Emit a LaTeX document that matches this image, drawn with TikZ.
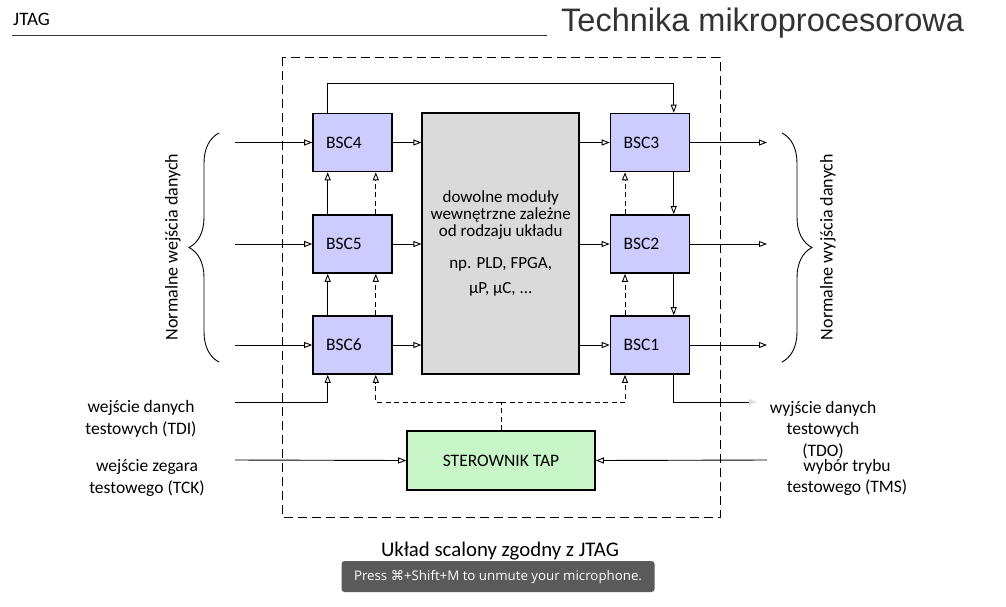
\documentclass[tikz,border=0pt]{standalone}
\usepackage{fontspec}
\setmainfont{Carlito}
\newfontfamily\titlefont{Liberation Sans}
\newfontfamily\toastfont{Open Sans}
\newfontfamily\symfont{DejaVu Sans}
\usetikzlibrary{arrows.meta,decorations.pathreplacing}
\definecolor{bscblue}{RGB}{204,204,255}
\definecolor{coregray}{RGB}{218,218,218}
\definecolor{tapgreen}{RGB}{200,246,200}
\definecolor{toastgray}{RGB}{90,90,90}

\begin{document}
\begin{tikzpicture}
[
    x=1pt, y=-1pt,
    font=\fontsize{17.5}{20}\selectfont,
    bsc/.style={draw, line width=1.6pt, fill=bscblue, minimum width=79pt, minimum height=58pt,
                inner xsep=13pt, text width=53pt, align=left},
    core/.style={draw, line width=1.6pt, fill=coregray, minimum width=157pt, minimum height=261pt},
    tap/.style={draw, line width=1.6pt, fill=tapgreen, minimum width=188pt, minimum height=59pt},
    conn/.style={line width=0.9pt, -{Triangle[open, length=8pt, width=6pt]}},
    ctl/.style={line width=0.9pt, dash pattern=on 5pt off 3.5pt},
    chip/.style={line width=1pt, dash pattern=on 9pt off 5pt},
    brace/.style={line width=0.9pt, decorate, decoration={brace, amplitude=30pt}},
    lbl/.style={align=center, font=\fontsize{17.5}{22}\selectfont},
]
\useasboundingbox (0,0) rectangle (1006,606);

% header
\node [anchor=west, inner sep=0pt] (jtag) at (13,19) {\fontsize{19}{20}\selectfont JTAG};
\draw [black!80, line width=0.8pt] (12,35) -- (547,35);
\node [anchor=west, inner sep=0pt, text=black!80] (title) at (561,23)
{\titlefont\fontsize{32.5}{34}\selectfont Technika mikroprocesorowa};

% chip outline
\draw [chip] (282,57) rectangle (720,517);

% cells
\node [bsc] (bsc4) at (352.5,142.5) {BSC4};
\node [bsc] (bsc5) at (352.5,244) {BSC5};
\node [bsc] (bsc6) at (352.5,345) {BSC6};
\node [bsc] (bsc3) at (650,142.5) {BSC3};
\node [bsc] (bsc2) at (650,244) {BSC2};
\node [bsc] (bsc1) at (650,345) {BSC1};

\node [core, align=center, font=\fontsize{17}{17}\selectfont] (core) at (500.7,243.5)
{dowolne moduły\\wewnętrzne zależne\\od rodzaju układu\\[15pt]np. PLD, FPGA,\\[8pt]μP, μC, ...};

\node [tap] (tap) at (501,460.5) {STEROWNIK TAP};

% normal data paths
\foreach \n/\y in {4/142.5,5/244,6/345} {
    \coordinate (in\n) at (235,\y);
    \draw [conn] (in\n) -- (bsc\n.west);
    \draw [conn] (bsc\n.east) -- (bsc\n.east -| core.west);
}
\foreach \n/\y in {3/142.5,2/244,1/345} {
    \coordinate (out\n) at (767,\y);
    \draw [conn] (bsc\n.east) -- (out\n);
    \draw [conn] (bsc\n.east -| core.east) -- (bsc\n.west);
}

% scan chain
\coordinate (tdi) at (235,402);
\coordinate (tdo) at (757,402);
\draw [conn] (tdi) -| ([xshift=15.5pt]bsc6.south west);
\draw [conn] ([xshift=15.5pt]bsc6.north west) -- ([xshift=15.5pt]bsc5.south west);
\draw [conn] ([xshift=15.5pt]bsc5.north west) -- ([xshift=15.5pt]bsc4.south west);
\draw [conn] ([xshift=15.5pt]bsc4.north west) -- ++(0,-29) -| ([xshift=-16.6pt]bsc3.north east);
\draw [conn] ([xshift=-16.6pt]bsc3.south east) -- ([xshift=-16.6pt]bsc2.north east);
\draw [conn] ([xshift=-16.6pt]bsc2.south east) -- ([xshift=-16.6pt]bsc1.north east);
\draw [line width=0.9pt, -{Triangle[length=8pt, width=6pt, color=black!12]}]
    ([xshift=-16.6pt]bsc1.south east) |- (tdo);

% control lines
\coordinate (bus) at (501,402);
\draw [ctl] (tap.north) -- (bus);
\draw [ctl, -{Triangle[open, length=8pt, width=6pt]}] (bus) -| ([xshift=-17pt]bsc6.south east);
\draw [ctl, -{Triangle[open, length=8pt, width=6pt]}] (bus) -| ([xshift=15.3pt]bsc1.south west);
\draw [ctl, -{Triangle[open, length=8pt, width=6pt]}] ([xshift=-17pt]bsc6.north east) -- ([xshift=-17pt]bsc5.south east);
\draw [ctl, -{Triangle[open, length=8pt, width=6pt]}] ([xshift=-17pt]bsc5.north east) -- ([xshift=-17pt]bsc4.south east);
\draw [ctl, -{Triangle[open, length=8pt, width=6pt]}] ([xshift=15.3pt]bsc1.north west) -- ([xshift=15.3pt]bsc2.south west);
\draw [ctl, -{Triangle[open, length=8pt, width=6pt]}] ([xshift=15.3pt]bsc2.north west) -- ([xshift=15.3pt]bsc3.south west);

% TAP inputs
\coordinate (tck) at (235,460);
\coordinate (tms) at (767,460);
\draw [conn] (tck) -- (tap.west);
\draw [conn] (tms) -- (tap.east);

% braces
\draw [brace] (219,362) -- (219,133);
\draw [brace] (782,133) -- (782,362);
\node [rotate=90, font=\fontsize{18}{20}\selectfont] (inlab) at (173,247) {Normalne wejścia danych};
\node [rotate=90, font=\fontsize{18}{20}\selectfont] (outlab) at (828,247) {Normalne wyjścia danych};

% pin labels
\node [lbl] (tdilab) at (141,419) {wejście danych\\testowych (TDI)};
\node [lbl] (tcklab) at (147,477.5) {wejście zegara\\testowego (TCK)};
\node [lbl, font=\fontsize{17.5}{21.5}\selectfont] (tdolab) at (823,430) {wyjście danych\\testowych\\(TDO)};
\node [lbl, font=\fontsize{17.5}{21}\selectfont] (tmslab) at (847,477.5) {wybór trybu\\testowego (TMS)};

% caption
\node (chipname) at (500,551) {\fontsize{20.8}{22}\selectfont Układ scalony zgodny z JTAG};
\node [fill=toastgray, rounded corners=3pt, minimum width=313pt, minimum height=31pt,
       text=white, font=\toastfont\fontsize{13.3}{16}\selectfont] (toast) at (498,576.5)
{Press {\symfont ⌘}+Shift+M to unmute your microphone.};
\end{tikzpicture}
\end{document}
